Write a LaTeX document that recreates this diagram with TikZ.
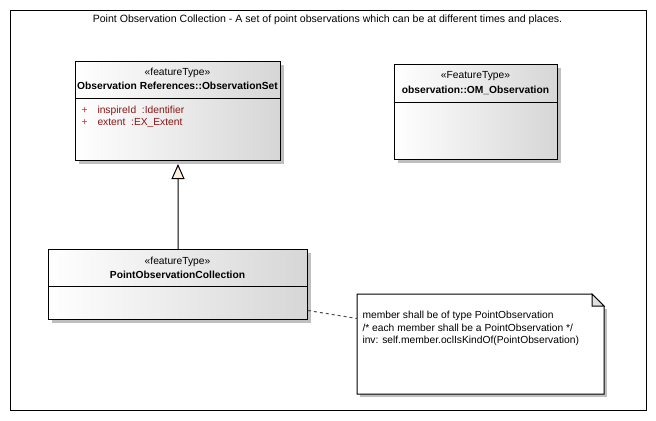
\documentclass[tikz,border=0pt]{standalone}
\usepackage{fontspec}
\setmainfont{Liberation Sans}
\usetikzlibrary{arrows.meta,shadows,calc}
\definecolor{attr}{RGB}{140,20,20}
\definecolor{plus}{RGB}{200,50,50}
\definecolor{cream}{RGB}{253,240,224}
\definecolor{shade}{RGB}{214,214,214}
\definecolor{fold}{RGB}{224,224,224}
\tikzset{
  classbox/.style={draw,left color=white,right color=shade,anchor=north west,inner sep=0pt,
    drop shadow={shadow xshift=3bp,shadow yshift=-3bp,fill=black!25,opacity=1}},
  txt/.style={font=\fontsize{10.3}{12.5}\selectfont,inner sep=0pt},
  bold/.style={txt,font=\fontsize{10.3}{12.5}\selectfont\bfseries},
  attrtxt/.style={txt,anchor=west,text=attr}
}

\begin{document}
\begin{tikzpicture}[x=1bp,y=-1bp,line width=1bp]
    \useasboundingbox (0,0) rectangle (656,420);
    \node [draw, minimum width=636bp, minimum height=400bp, anchor=north west, inner sep=0pt] (frame) at (10,10) {};
    \node [txt, font=\fontsize{10.6}{12.5}\selectfont] (title) at (327.5,20) {Point Observation Collection - A set of point observations which can be at different times and places.};

    % classes
    \node [classbox, minimum width=205bp, minimum height=99bp] (OS) at (75,61) {};
    \draw ([yshift=-37bp]OS.north west) -- ([yshift=-37bp]OS.north east);
    \node [txt] at (177.5,73) {«featureType»};
    \node [bold] at (177.5,86) {Observation References::ObservationSet};
    \node [txt, anchor=west, text=plus] at (81,111) {+};
    \node [attrtxt] at (97,111) {inspireId\ \ :Identifier};
    \node [txt, anchor=west, text=plus] at (81,123) {+};
    \node [attrtxt] at (97,123) {extent\ \ :EX\_Extent};

    \node [classbox, minimum width=163bp, minimum height=95bp] (OM) at (394,64) {};
    \draw ([yshift=-38bp]OM.north west) -- ([yshift=-38bp]OM.north east);
    \node [txt] at (475.5,76) {«FeatureType»};
    \node [bold] at (475.5,90) {observation::OM\_Observation};

    \node [classbox, minimum width=259bp, minimum height=70bp] (PC) at (48,249) {};
    \draw ([yshift=-37bp]PC.north west) -- ([yshift=-37bp]PC.north east);
    \node [txt] at (177.5,262) {«featureType»};
    \node [bold] at (177.5,275) {PointObservationCollection};

    % note
    \node [minimum width=246bp, minimum height=99bp, anchor=north west, inner sep=0pt] (N) at (357,294) {};
    \fill [black!25] ($(N.south west)+(3,3)$) rectangle ($(N.north east)+(3,15)$);
    \draw [fill=white] (N.north west) -- ($(N.north east)+(-12,0)$) -- ($(N.north east)+(0,12)$) |- (N.south west) -- cycle;
    \draw [fill=fold] ($(N.north east)+(-12,0)$) |- ($(N.north east)+(0,12)$) -- cycle;
    \node [txt, anchor=north west, align=left] at (362,311) {member shall be of type PointObservation\\/* each member shall be a PointObservation */\\inv: self.member.oclIsKindOf(PointObservation)};

    % links
    \draw [-{Triangle[open, fill=cream, length=15bp, width=13bp]}] (PC.north) -- ([yshift=-3bp]OS.south);
    \draw [black!70, dash pattern=on 3bp off 3bp] ([yshift=-26bp]PC.east) -- ([yshift=25.5bp]N.west);
\end{tikzpicture}
\end{document}
